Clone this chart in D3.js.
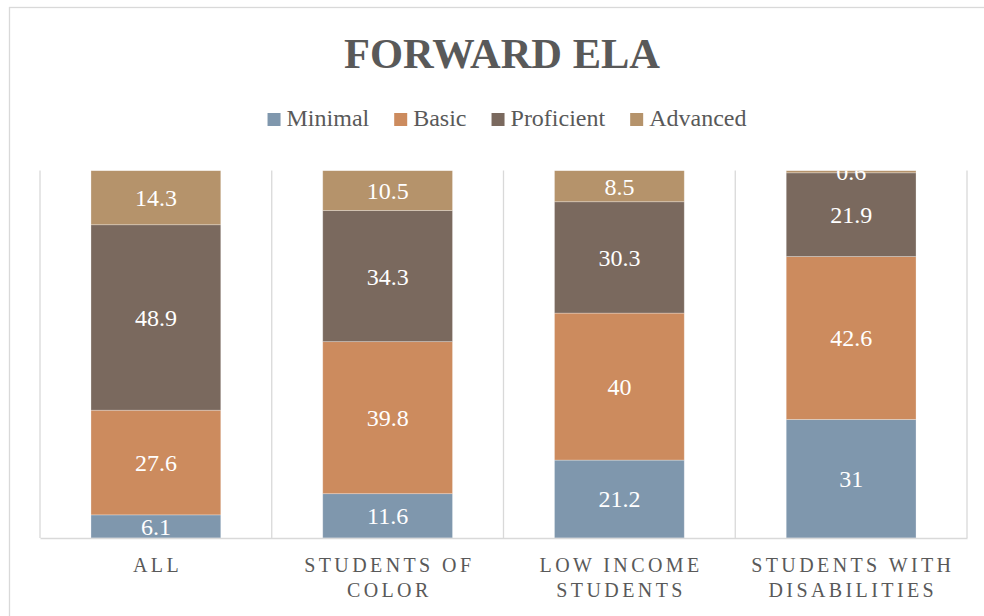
<!DOCTYPE html>
<html>
<head>
<meta charset="utf-8">
<script src="https://cdn.jsdelivr.net/npm/d3@7"></script>
<style>
  body { margin: 0; background: #fff; }
  text { font-family: "Liberation Serif", "DejaVu Serif", serif; }
</style>
</head>
<body>
<div id="chart"></div>
<script>
// data
var categories = ["ALL", "STUDENTS OF COLOR", "LOW INCOME STUDENTS", "STUDENTS WITH DISABILITIES"];
var tickLines = [["ALL"], ["STUDENTS OF", "COLOR"], ["LOW INCOME", "STUDENTS"], ["STUDENTS WITH", "DISABILITIES"]];
var seriesNames = ["Minimal", "Basic", "Proficient", "Advanced"];
var minimal    = [6.1, 11.6, 21.2, 31];
var basic      = [27.6, 39.8, 40, 42.6];
var proficient = [48.9, 34.3, 30.3, 21.9];
var advanced   = [14.3, 10.5, 8.5, 0.6];
var colors = ["#7f97ad", "#cc8b5e", "#7a695e", "#b5936b"];

(function() {
    var W = 984, H = 616;
    var pLeft = 40, pRight = 967, pTop = 170.5, pBottom = 538;
    var grey = "#595959", lineCol = "#d9d9d9";

    var rows = categories.map(function(c, i) {
        return {cat: c, Minimal: minimal[i], Basic: basic[i], Proficient: proficient[i], Advanced: advanced[i]};
    });

    // 100% stacked
    var stack = d3.stack().keys(seriesNames).offset(d3.stackOffsetExpand);
    var layers = stack(rows);

    var x = d3.scaleBand().domain(categories).range([pLeft, pRight]).padding(0);
    var y = d3.scaleLinear().domain([0, 1]).range([pBottom, pTop]);
    var color = d3.scaleOrdinal().domain(seriesNames).range(colors);
    var barW = x.bandwidth() * 0.56;

    var svg = d3.select("#chart").append("svg").attr("width", W).attr("height", H);

    // chart frame (runs off the right / bottom of the picture)
    svg.append("rect")
        .attr("x", 9.5).attr("y", 7.5).attr("width", 1100).attr("height", 800)
        .attr("fill", "none").attr("stroke", lineCol).attr("stroke-width", 1.3);

    // title
    svg.append("text")
        .attr("x", 502).attr("y", 68)
        .attr("text-anchor", "middle")
        .attr("font-size", 42).attr("font-weight", "bold")
        .attr("fill", grey)
        .attr("textLength", 316).attr("lengthAdjust", "spacingAndGlyphs")
        .text("FORWARD ELA");

    // legend
    var legend = svg.append("g").attr("transform", "translate(0,126)");
    var items = legend.selectAll("g").data(seriesNames).enter().append("g");
    items.append("rect").attr("y", -13).attr("width", 13).attr("height", 13)
        .attr("fill", function(d) { return color(d); });
    items.append("text").attr("x", 19).attr("font-size", 24).attr("fill", grey)
        .text(function(d) { return d; });
    var offs = [], pos = 0;
    items.each(function() {
        var w = 19 + d3.select(this).select("text").node().getComputedTextLength();
        offs.push(pos);
        pos += w + 25;
    });
    var legendW = pos - 25;
    items.attr("transform", function(d, i) {
        return "translate(" + (507 - legendW / 2 + offs[i]) + ",0)";
    });

    // gridlines between categories
    var bounds = categories.map(function(c) { return x(c); }).concat([pRight]);
    svg.append("g").selectAll("line").data(bounds).enter().append("line")
        .attr("x1", function(d) { return d; }).attr("x2", function(d) { return d; })
        .attr("y1", pTop).attr("y2", pBottom)
        .attr("stroke", lineCol).attr("stroke-width", 1.3);

    svg.append("defs").append("clipPath").attr("id", "plotclip")
        .append("rect").attr("x", pLeft).attr("y", pTop)
        .attr("width", pRight - pLeft).attr("height", pBottom - pTop);

    var plot = svg.append("g").attr("clip-path", "url(#plotclip)");

    var layer = plot.selectAll("g.layer").data(layers).enter().append("g")
        .attr("class", "layer")
        .attr("fill", function(d) { return color(d.key); });

    layer.selectAll("rect").data(function(d) { return d; }).enter().append("rect")
        .attr("x", function(d) { return x(d.data.cat) + (x.bandwidth() - barW) / 2; })
        .attr("width", barW)
        .attr("y", function(d) { return y(d[1]); })
        .attr("height", function(d) { return y(d[0]) - y(d[1]); })
        .attr("stroke", "#fff").attr("stroke-opacity", 0.35).attr("stroke-width", 0.8);

    // data labels show the original values
    layer.selectAll("text").data(function(d) {
            return d.map(function(p) { return {p: p, key: d.key}; });
        }).enter().append("text")
        .attr("x", function(d) { return x(d.p.data.cat) + x.bandwidth() / 2; })
        .attr("y", function(d) { return y((d.p[0] + d.p[1]) / 2); })
        .attr("dy", "0.35em")
        .attr("text-anchor", "middle")
        .attr("font-size", 24).attr("fill", "#fff")
        .text(function(d) { return d.p.data[d.key]; });

    // category axis
    var xAxis = svg.append("g").attr("transform", "translate(0," + pBottom + ")")
        .call(d3.axisBottom(x).tickSize(0).tickFormat(""));
    xAxis.select(".domain").attr("stroke", lineCol).attr("stroke-width", 1.3);

    var ls = 3.4;
    svg.append("g").selectAll("text").data(categories).enter().append("text")
        .attr("x", function(d) { return x(d) + x.bandwidth() / 2 + ls / 2; })
        .attr("y", 572)
        .attr("text-anchor", "middle")
        .attr("font-size", 20).attr("fill", grey)
        .style("letter-spacing", ls + "px")
        .each(function(d, i) {
            var t = d3.select(this);
            tickLines[i].forEach(function(line, j) {
                t.append("tspan").attr("x", t.attr("x")).attr("dy", j ? 25 : 0).text(line);
            });
        });
})();
</script>
</body>
</html>
